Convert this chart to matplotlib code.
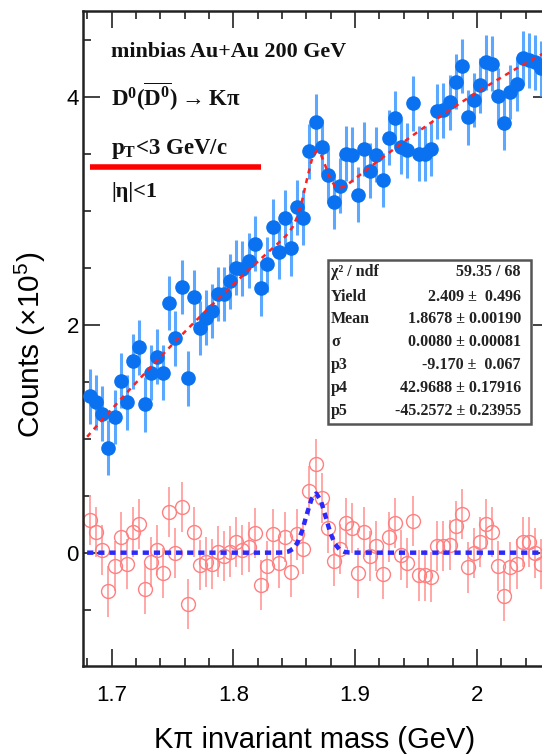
import numpy as np
import matplotlib
matplotlib.use('Agg')
import matplotlib.pyplot as plt

plt.rcParams['font.family'] = ['Liberation Sans', 'DejaVu Sans']
plt.rcParams['mathtext.fontset'] = 'custom'
plt.rcParams['mathtext.rm'] = 'Liberation Sans'
plt.rcParams['mathtext.bf'] = 'Liberation Serif:bold'

# bin centres of the K pi invariant mass histogram (GeV)
mass = np.round(1.6825 + 0.005 * np.arange(75), 4)

# same-event (unlike sign) counts, x10^5
blue = [1.37, 1.32, 1.22, 0.92, 1.19, 1.51, 1.32, 1.68, 1.80, 1.30,
        1.58, 1.72, 1.58, 2.19, 1.88, 2.33, 1.53, 2.24, 1.97, 2.06,
        2.12, 2.27, 2.27, 2.38, 2.50, 2.49, 2.56, 2.71, 2.32, 2.53,
        2.86, 2.64, 2.94, 2.67, 3.03, 2.94, 3.52, 3.78, 3.56, 3.31,
        3.08, 3.22, 3.50, 3.49, 3.14, 3.54, 3.35, 3.49, 3.27, 3.64,
        3.81, 3.56, 3.53, 3.94, 3.50, 3.50, 3.54, 3.87, 3.88, 3.95,
        4.13, 4.27, 3.82, 3.97, 4.10, 4.30, 4.29, 4.01, 3.77, 4.04,
        4.11, 4.34, 4.32, 4.30, 4.25]
blue_err = [0.24] * 75

# background subtracted counts, x10^5
red = [0.29, 0.18, 0.02, -0.34, -0.12, 0.14, -0.10, 0.18, 0.25, -0.32,
       -0.08, 0.02, -0.18, 0.36, 0.00, 0.40, -0.45, 0.18, -0.11, -0.08,
       -0.10, 0.01, -0.03, 0.01, 0.09, 0.02, 0.05, 0.17, -0.28, -0.12,
       0.16, -0.09, 0.14, -0.17, 0.16, 0.03, 0.54, 0.78, 0.48, 0.22,
       -0.07, 0.03, 0.26, 0.22, -0.18, 0.18, -0.03, 0.06, -0.19, 0.14,
       0.26, -0.02, -0.09, 0.28, -0.20, -0.20, -0.21, 0.06, 0.06, 0.07,
       0.23, 0.34, -0.13, 0.00, 0.09, 0.25, 0.18, -0.12, -0.38, -0.13,
       -0.10, 0.09, 0.09, 0.00, -0.10]
red_err = [0.22] * 75

# fit: gaussian peak + 2nd order background
peak_mean = 1.8678
peak_sigma = 0.0080
peak_amp = 0.52
bkg_coef = [2.93, 9.1, -8.5]   # around m = 1.86

stat_labels = ['χ² / ndf', 'Yield', 'Mean', 'σ', 'p3', 'p4', 'p5']
stat_values = ['59.35 / 68', '2.409 ±  0.496', '1.8678 ± 0.00190',
               '0.0080 ± 0.00081', '-9.170 ±  0.067', '42.9688 ± 0.17916',
               '-45.2572 ± 0.23955']

W, H = 542, 755
fig = plt.figure(figsize=(W / 100, H / 100), dpi=100)
L, R, T, B = 83, 550, 10.7, 666
ax = fig.add_axes([L / W, 1 - B / H, (R - L) / W, (B - T) / H])

def axpos(px, py):
    return (px - L) / (R - L), (B - py) / (B - T)

ax.errorbar(mass, red, yerr=red_err, fmt='o', ms=10, mfc='none', mec='#ff8080',
            mew=1.0, ecolor='#ffa0a0', elinewidth=1.3, capsize=0, zorder=2)
ax.errorbar(mass, blue, yerr=blue_err, fmt='o', ms=9.5, mfc='#0a72f0', mec='#0a72f0',
            ecolor='#5aa8ff', elinewidth=2.2, capsize=0, zorder=3)

# fit function drawn with ~100 points like ROOT does
xf = np.linspace(1.68, 2.06, 100)
gaus = peak_amp * np.exp(-0.5 * ((xf - peak_mean) / peak_sigma) ** 2)
u = xf - 1.86
bkg = bkg_coef[0] + bkg_coef[1] * u + bkg_coef[2] * u ** 2
ax.plot(xf, bkg + gaus, color='#ff2020', lw=1.8, dashes=(2, 2), zorder=4)
ax.plot(xf, gaus, color='#2a2aff', lw=3.2, dashes=(1.4, 1.1), zorder=4)

ax.set_xlim(1.6766, 2.0532 + 0.0065)
ax.set_ylim(-0.994, 4.754)
ax.set_xticks([1.7, 1.8, 1.9, 2.0])
ax.set_xticklabels(['1.7', '1.8', '1.9', '2'])
ax.set_xticks(np.arange(1.68, 2.06, 0.02), minor=True)
ax.set_yticks([0, 2, 4])
ax.set_yticks(np.arange(-0.5, 4.6, 0.5), minor=True)
ax.tick_params(which='both', direction='in', top=True, right=True, width=1.2, color='#222222')
ax.tick_params(which='major', length=12.5)
ax.tick_params(which='minor', length=6)
ax.tick_params(axis='x', which='major', labelsize=16, pad=14)
ax.tick_params(axis='y', which='major', labelsize=16, pad=3)
for s in ax.spines.values():
    s.set_linewidth(1.8)
    s.set_color('#222222')

fig.text(30 / W, 1 - 345 / H, r'Counts ($\times 10^{5}$)', rotation=90,
         ha='center', va='center', fontsize=21.5)
fig.text(315 / W, 1 - 740 / H, 'Kπ invariant mass (GeV)', ha='center', va='center', fontsize=21)

serif = dict(family='Liberation Serif', weight='bold', color='#111111',
             transform=ax.transAxes, va='center', ha='left')
ax.text(*axpos(111, 52), 'minbias Au+Au 200 GeV', fontsize=15.8, **serif)
ax.text(*axpos(111, 97), r'$\mathbf{D^0(\overline{D^0})\rightarrow K\pi}$', fontsize=16.5, **serif)
ax.text(*axpos(111, 149), r'p$_{\mathbf{T}}$<3 GeV/c', fontsize=16.5, **serif)
ax.text(*axpos(111, 192), '|η|<1', fontsize=16, **serif)
x0, y0 = axpos(90, 167)
x1, _ = axpos(261, 167)
ax.plot([x0, x1], [y0, y0], transform=ax.transAxes, color='red', lw=4, solid_capstyle='butt')

bx0, by0 = axpos(328, 424)
bx1, by1 = axpos(531, 260)
ax.add_patch(plt.Rectangle((bx0, by0), bx1 - bx0, by1 - by0, transform=ax.transAxes,
                           fc='white', ec='#555555', lw=1.8, zorder=6))
rows = [272, 297, 319, 342, 365, 388, 411]
for lab, val, py in zip(stat_labels, stat_values, rows):
    ax.text(*axpos(331, py), lab, fontsize=11.5, zorder=7,
            **{**serif, 'color': '#222222'})
    ax.text(*axpos(521, py), val, fontsize=11.5, zorder=7,
            **{**serif, 'ha': 'right', 'color': '#222222'})

fig.savefig('out.png', dpi=100)
